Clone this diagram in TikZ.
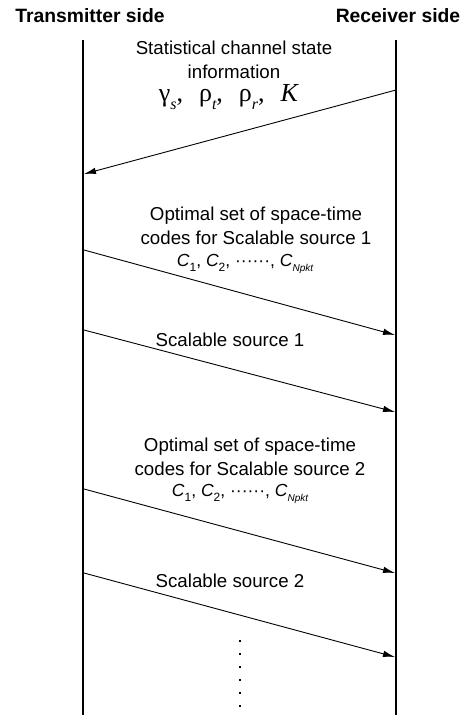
\documentclass[tikz,border=0pt]{standalone}
\usepackage{fontspec}
\setmainfont{Liberation Sans}
\newfontfamily\lserif{Liberation Serif}
\usetikzlibrary{arrows.meta}
\newcommand{\lsub}[1]{\raisebox{-0.3em}{\fontsize{12}{12}\selectfont #1}}
\newcommand{\msub}[1]{\raisebox{-0.3em}{\fontsize{16}{16}\selectfont\itshape #1}}
\newcommand{\nsub}[1]{\raisebox{-0.3em}{\fontsize{10}{10}\selectfont\itshape #1}}
\newcommand{\ccodes}{\textit{C}\lsub{1}, \textit{C}\lsub{2}, ······, \textit{C}\nsub{Npkt}}
\newcommand{\gap}{\hspace{16pt}}
\begin{document}
\begin{tikzpicture}[x=1pt,y=-1pt,
  lifeline/.style={line width=1.8pt},
  msg/.style={line width=0.9pt,-{Latex[length=12pt,width=6.5pt]}},
  title/.style={font=\fontsize{19.3}{22}\selectfont\bfseries},
  lbl/.style={font=\fontsize{18.7}{23.5}\selectfont,align=center},
  sub/.style={font=\fontsize{17.5}{20}\selectfont}]
\useasboundingbox (0,0) rectangle (472,715);
\node[title] (tx) at (90,16) {Transmitter side};
\node[title] (rx) at (398,16) {Receiver side};
\coordinate (ltop) at (83,40); \coordinate (lbot) at (83,715);
\coordinate (rtop) at (396,40); \coordinate (rbot) at (396,715);
\draw[lifeline] (ltop) -- (lbot);
\draw[lifeline] (rtop) -- (rbot);
% message 1
\coordinate (a1s) at (396,90); \coordinate (a1e) at (84,174);
\draw[msg] (a1s) -- (a1e);
\node[lbl] (t1) at (234,60) {Statistical channel state\\information};
\node[font=\fontsize{26}{28}\selectfont\lserif] (m1) at (229,97) {γ\msub{s},\gap ρ\msub{t},\gap ρ\msub{r},\gap \textit{K}};
% message 2
\coordinate (a2s) at (84,250); \coordinate (a2e) at (395,335);
\draw[msg] (a2s) -- (a2e);
\node[lbl] (t2) at (256,226) {Optimal set of space-time\\codes for Scalable source 1};
\node[sub] (c2) at (245,264) {\ccodes};
% message 3
\coordinate (a3s) at (84,330); \coordinate (a3e) at (395,412);
\draw[msg] (a3s) -- (a3e);
\node[lbl] (t3) at (230,340) {Scalable source 1};
% message 4
\coordinate (a4s) at (84,489); \coordinate (a4e) at (395,573);
\draw[msg] (a4s) -- (a4e);
\node[lbl] (t4) at (250,457) {Optimal set of space-time\\codes for Scalable source 2};
\node[sub] (c4) at (240,494) {\ccodes};
% message 5
\coordinate (a5s) at (84,573); \coordinate (a5e) at (395,657);
\draw[msg] (a5s) -- (a5e);
\node[lbl] (t5) at (230,581) {Scalable source 2};
% dots
\foreach \i in {0,...,5} {
  \fill (240,641+13*\i) +(-1.4,-1.4) rectangle +(1.4,1.4);
}
\end{tikzpicture}
\end{document}
